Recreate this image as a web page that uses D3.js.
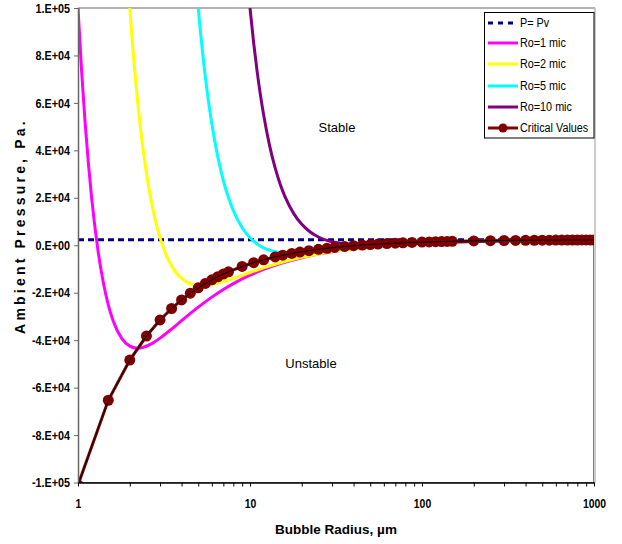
<!DOCTYPE html>
<html>
<head>
<meta charset="utf-8">
<script src="https://cdn.jsdelivr.net/npm/d3@7"></script>
<style>
body{margin:0;background:#fff;}
text{font-family:"Liberation Sans",Arial,sans-serif;}
</style>
</head>
<body>
<svg id="chart" width="622" height="544"></svg>
<script>
/* bubble radius (um) / ambient pressure (Pa) */
const xMajor = [1, 10, 100, 1000];
const yTicks = [-100000, -80000, -60000, -40000, -20000, 0, 20000, 40000, 60000, 80000, 100000];
const yTickLabels = ["-1.E+05","-8.E+04","-6.E+04","-4.E+04","-2.E+04","0.E+00","2.E+04","4.E+04","6.E+04","8.E+04","1.E+05"];

const pvR = [1, 1000];
const pvP = [2339, 2339];

const ro1R = [1, 1.05, 1.1, 1.15, 1.2, 1.3, 1.4, 1.5, 1.6, 1.8, 2, 2.2, 2.4, 2.7, 3, 3.5, 4, 5, 6, 7, 8, 10, 12, 15, 20, 25, 30, 40, 50, 70, 100, 150, 200, 300, 500, 700, 1000];
const ro1P = [100000, 73227, 51700, 34279, 20102, -1010, -15318, -25095, -31785, -39374, -42528, -43377, -43003, -41337, -39140, -35319, -31807, -26102, -21871, -18676, -16198, -12631, -10199, -7734, -5240, -3733, -2725, -1462, -703, 165, 817, 1324, 1578, 1832, 2035, 2122, 2187];

const ro2R = [2, 2.1, 2.2, 2.3, 2.4, 2.6, 2.8, 3, 3.3, 3.6, 4, 4.5, 5, 5.5, 6, 7, 8, 10, 12, 15, 20, 25, 30, 40, 50, 70, 100, 150, 200, 300, 500, 700, 1000];
const ro2P = [100000, 79964, 63706, 50416, 39478, 22891, 11306, 3091, -5101, -10144, -13991, -16228, -16980, -16979, -16592, -15351, -13971, -11491, -9540, -7396, -5097, -3660, -2683, -1444, -694, 169, 818, 1324, 1578, 1832, 2035, 2122, 2187];

const ro5R = [5, 5.2, 5.4, 5.6, 5.8, 6, 6.5, 7, 7.5, 8, 9, 10, 11, 12, 13, 14, 16, 18, 20, 25, 30, 40, 50, 70, 100, 150, 200, 300, 500, 700, 1000];
const ro5P = [100000, 86951, 75845, 66340, 58167, 51105, 37231, 27280, 20002, 14589, 7393, 3132, 533, -1077, -2081, -2697, -3265, -3371, -3269, -2724, -2141, -1216, -577, 212, 833, 1329, 1580, 1833, 2035, 2122, 2187];

const ro10R = [10, 10.5, 11, 11.5, 12, 13, 14, 15, 16, 18, 20, 22, 25, 28, 30, 35, 40, 50, 60, 70, 100, 150, 200, 300, 500, 700, 1000];
const ro10P = [100000, 85355, 73312, 63325, 54981, 42011, 32605, 25638, 20385, 13238, 8839, 6022, 3475, 2045, 1447, 623, 298, 198, 325, 494, 930, 1357, 1592, 1836, 2036, 2122, 2187];

const critR = [1, 1.5, 2, 2.5, 3, 3.5, 4, 4.5, 5, 5.5, 6, 6.5, 7, 7.5, 9, 10.5, 12, 14, 15.5, 17.5, 19.5, 22, 25, 28, 31, 35.5, 40, 45, 50, 55.5, 62.5, 70, 77.5, 87.5, 100, 110, 120, 130, 140, 150, 200, 250, 300, 350, 400, 450, 500, 550, 600, 650, 700, 750, 800, 850, 900, 950, 1000];
const critP = [-101000, -65328, -48411, -38261, -31494, -26661, -23036, -20217, -17961, -16116, -14578, -13276, -12161, -11194, -8939, -7328, -6119, -4911, -4209, -3461, -2866, -2275, -1721, -1286, -935, -520, -199, 83, 309, 510, 715, 889, 1029, 1179, 1324, 1416, 1493, 1558, 1614, 1662, 1831, 1933, 2001, 2049, 2085, 2113, 2136, 2154, 2170, 2183, 2194, 2204, 2212, 2220, 2226, 2232, 2237];

const zip = (a, b) => a.map((v, i) => [v, b[i]]);
const curves = [
  {name: "Ro=1 mic", color: "#ff00ff", pts: zip(ro1R, ro1P)},
  {name: "Ro=2 mic", color: "#ffff00", pts: zip(ro2R, ro2P)},
  {name: "Ro=5 mic", color: "#00ffff", pts: zip(ro5R, ro5P)},
  {name: "Ro=10 mic", color: "#800080", pts: zip(ro10R, ro10P)}
];
const crit = zip(critR, critP);

const svg = d3.select("#chart");
const x = d3.scaleLog().domain([1, 1000]).range([78, 594]);
const y = d3.scaleLinear().domain([-100000, 100000]).range([482.5, 8]);

// squash text a bit, the source picture is narrower than the fonts here
function squeeze(sel, k) {
  sel.each(function () {
    const w = this.getComputedTextLength();
    if (w > 0) d3.select(this).attr("textLength", w * k).attr("lengthAdjust", "spacingAndGlyphs");
  });
}

svg.append("clipPath").attr("id", "plot")
  .append("rect").attr("x", 78).attr("y", 8).attr("width", 516).attr("height", 474.5);

// frame
svg.append("line").attr("x1", 78).attr("x2", 595).attr("y1", 8).attr("y2", 8)
  .attr("stroke", "#999").attr("stroke-width", 1.5);
svg.append("line").attr("x1", 595).attr("x2", 595).attr("y1", 8).attr("y2", 483)
  .attr("stroke", "#bbb").attr("stroke-width", 1.5);

const plot = svg.append("g").attr("clip-path", "url(#plot)");
const line = d3.line().x(d => x(d[0])).y(d => y(d[1]));

plot.append("path").datum(zip(pvR, pvP))
  .attr("d", line).attr("fill", "none")
  .attr("stroke", "#000080").attr("stroke-width", 3).attr("stroke-dasharray", "6,4");

const smooth = d3.line().x(d => x(d[0])).y(d => y(d[1])).curve(d3.curveMonotoneX);
curves.forEach(c => {
  plot.append("path").datum(c.pts)
    .attr("d", smooth).attr("fill", "none")
    .attr("stroke", c.color).attr("stroke-width", 3);
});

plot.append("path").datum(crit)
  .attr("d", line).attr("fill", "none")
  .attr("stroke", "#800000").attr("stroke-width", 3);
plot.selectAll("circle.crit").data(crit).enter()
  .append("circle").attr("class", "crit")
  .attr("cx", d => x(d[0])).attr("cy", d => y(d[1])).attr("r", 5.5)
  .attr("fill", "#800000");
// thin black outline running along the critical values
plot.append("path")
  .attr("d", line(crit) + "L" + x(1000) + "," + y(-100000) + "L" + x(1) + "," + y(-100000) + "Z")
  .attr("fill", "none").attr("stroke", "#000").attr("stroke-width", 1);

// axes
const yAxis = svg.append("g").attr("transform", "translate(78,0)")
  .call(d3.axisLeft(y).tickValues(yTicks).tickFormat((d, i) => yTickLabels[i]).tickSize(4).tickSizeOuter(0).tickPadding(4));
yAxis.select(".domain").attr("stroke", "#666").attr("stroke-width", 1.5);
yAxis.selectAll(".tick line").attr("stroke", "#666");
yAxis.selectAll("text").attr("font-size", 13).attr("font-weight", "bold").attr("fill", "#000")
  .style("font-family", "'Liberation Sans',Arial,sans-serif");
squeeze(yAxis.selectAll("text"), 0.83);

let xTickAll = [];
[1, 10, 100].forEach(m => { for (let k = 1; k < 10; k++) xTickAll.push(m * k); });
xTickAll.push(1000);
const xAxis = svg.append("g").attr("transform", "translate(0,482.5)")
  .call(d3.axisBottom(x).tickValues(xTickAll).tickFormat(d => xMajor.includes(d) ? d : "").tickSize(4).tickSizeOuter(0).tickPadding(12));
xAxis.select(".domain").attr("stroke", "#000").attr("stroke-width", 1.5);
xAxis.selectAll(".tick line").attr("stroke", "#000");
xAxis.selectAll("text").attr("font-size", 13).attr("font-weight", "bold").attr("fill", "#000")
  .style("font-family", "'Liberation Sans',Arial,sans-serif");
squeeze(xAxis.selectAll("text"), 0.8);

svg.append("text").attr("transform", "translate(25,226) rotate(-90)")
  .attr("text-anchor", "middle").attr("font-size", 14).attr("font-weight", "bold")
  .attr("letter-spacing", 3.2).text("Ambient Pressure, Pa.");
svg.append("text").attr("x", 336).attr("y", 534)
  .attr("text-anchor", "middle").attr("font-size", 13.5).attr("font-weight", "bold")
  .text("Bubble Radius, µm");

svg.append("text").attr("x", 337).attr("y", 132).attr("text-anchor", "middle")
  .attr("font-size", 13).text("Stable");
svg.append("text").attr("x", 311).attr("y", 368).attr("text-anchor", "middle")
  .attr("font-size", 13).text("Unstable");

// legend
const leg = svg.append("g");
leg.append("rect").attr("x", 484.5).attr("y", 12.5).attr("width", 109.5).attr("height", 125.5)
  .attr("fill", "#fff").attr("stroke", "#000");
const legItems = [{name: "P= Pv", color: "#000080", dash: true}]
  .concat(curves.map(c => ({name: c.name, color: c.color})))
  .concat([{name: "Critical Values", color: "#800000", marker: true}]);
const legY = [23, 43, 64, 86, 107, 128];
legItems.forEach((it, i) => {
  const ly = legY[i];
  leg.append("line").attr("x1", 488).attr("x2", 518).attr("y1", ly).attr("y2", ly)
    .attr("stroke", it.color).attr("stroke-width", 3)
    .attr("stroke-dasharray", it.dash ? "5,5" : null);
  if (it.marker) leg.append("circle").attr("cx", 503).attr("cy", ly).attr("r", 4.5).attr("fill", it.color);
  const t = leg.append("text").attr("x", 520).attr("y", ly + 4).attr("font-size", 12).text(it.name);
  squeeze(t, 0.9);
});
</script>
</body>
</html>
